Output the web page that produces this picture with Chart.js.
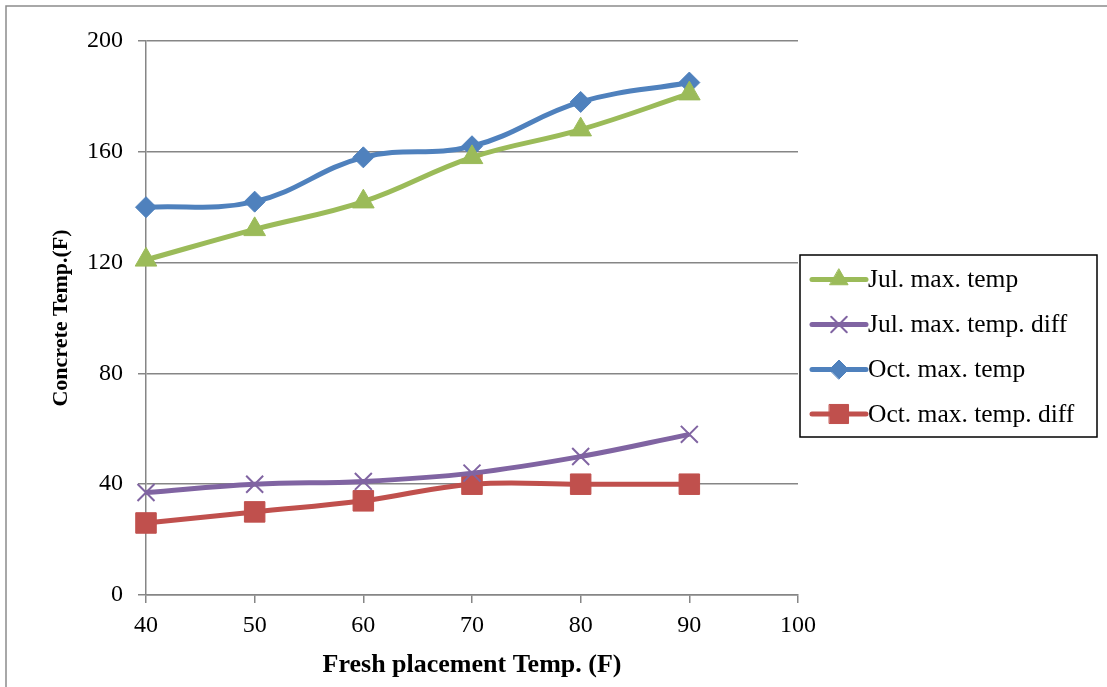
<!DOCTYPE html>
<html>
<head>
<meta charset="utf-8">
<script src="https://cdn.jsdelivr.net/npm/chart.js@4.4.1/dist/chart.umd.min.js"></script>
<style>
  html, body { margin: 0; padding: 0; background: #ffffff; }
  #wrap { position: relative; width: 1107px; height: 687px; }
</style>
</head>
<body>
<div id="wrap"><canvas id="c" width="1107" height="687"></canvas></div>
<script>
// ---- Data ----
const placementTemps = [40, 50, 60, 70, 80, 90];
const julMaxTemp      = [121, 132, 142, 158, 168, 181];
const julMaxTempDiff  = [37, 40, 41, 44, 50, 58];
const octMaxTemp      = [140, 142, 158, 162, 178, 185];
const octMaxTempDiff  = [26, 30, 34, 40, 40, 40];
const seriesLabels = ['Jul. max. temp', 'Jul. max. temp. diff', 'Oct. max. temp', 'Oct. max. temp. diff'];
const yTicks = [0, 40, 80, 120, 160, 200];
const xTicks = [40, 50, 60, 70, 80, 90, 100];
const xTitle = 'Fresh placement Temp. (F)';
const yTitle = 'Concrete Temp.(F)';

const FONT = '"Liberation Serif", "Times New Roman", serif';
const GRID = '#868686';

function pts(ys) { return placementTemps.map((x, i) => ({ x: x, y: ys[i] })); }

const styles = [
  { color: '#9BBB59', pointStyle: 'triangle', radius: 12.5, legendRadius: 10.5 },
  { color: '#8064A2', pointStyle: 'crossRot', radius: 12,   legendRadius: 11 },
  { color: '#4F81BD', pointStyle: 'rectRot',  radius: 10.5, legendRadius: 9.5 },
  { color: '#C0504D', pointStyle: 'rect',     radius: 14.5, legendRadius: 13.5 }
];
const seriesData = [julMaxTemp, julMaxTempDiff, octMaxTemp, octMaxTempDiff];

const datasets = seriesData.map((d, i) => ({
  label: seriesLabels[i],
  data: pts(d),
  borderColor: styles[i].color,
  backgroundColor: styles[i].color,
  borderWidth: 5,
  tension: 0.4,
  clip: false,
  pointStyle: styles[i].pointStyle,
  pointRadius: styles[i].radius,
  pointHoverRadius: styles[i].radius,
  pointBackgroundColor: styles[i].color,
  pointBorderColor: styles[i].color,
  pointBorderWidth: styles[i].pointStyle === 'crossRot' ? 2 : 1,
  fill: false
}));

function drawMarker(ctx, style, radius, x, y, color) {
  ctx.save();
  ctx.fillStyle = color;
  ctx.strokeStyle = color;
  ctx.lineWidth = style === 'crossRot' ? 2 : 1;
  if (Chart.helpers && Chart.helpers.drawPoint) {
    Chart.helpers.drawPoint(ctx, { pointStyle: style, radius: radius, rotation: 0, borderWidth: ctx.lineWidth }, x, y);
  } else {
    ctx.beginPath();
    if (style === 'triangle') {
      ctx.moveTo(x, y - radius);
      ctx.lineTo(x + radius * 0.866, y + radius * 0.5);
      ctx.lineTo(x - radius * 0.866, y + radius * 0.5);
      ctx.closePath(); ctx.fill();
    } else if (style === 'rectRot') {
      ctx.moveTo(x - radius, y); ctx.lineTo(x, y - radius);
      ctx.lineTo(x + radius, y); ctx.lineTo(x, y + radius);
      ctx.closePath(); ctx.fill();
    } else if (style === 'rect') {
      const s = radius * Math.SQRT1_2;
      ctx.rect(x - s, y - s, 2 * s, 2 * s); ctx.fill();
    } else {
      const s = radius * Math.SQRT1_2;
      ctx.moveTo(x - s, y - s); ctx.lineTo(x + s, y + s);
      ctx.moveTo(x + s, y - s); ctx.lineTo(x - s, y + s);
      ctx.stroke();
    }
  }
  ctx.restore();
}

const framePlugin = {
  id: 'frameAndLegend',
  afterDraw(chart) {
    const ctx = chart.ctx;
    ctx.save();
    // outer frame (left & top edges)
    ctx.strokeStyle = '#8c8c8c';
    ctx.lineWidth = 1.5;
    ctx.beginPath();
    ctx.moveTo(6, 700); ctx.lineTo(6, 6); ctx.lineTo(1110, 6);
    ctx.stroke();

    // legend box
    const lx = 800, ly = 255, lw = 297, lh = 182;
    ctx.fillStyle = '#ffffff';
    ctx.fillRect(lx, ly, lw, lh);
    ctx.strokeStyle = '#000000';
    ctx.lineWidth = 1.5;
    ctx.strokeRect(lx, ly, lw, lh);

    const rowYs = [279.5, 324.5, 369.5, 414];
    chart.data.datasets.forEach((ds, i) => {
      const y = rowYs[i];
      ctx.strokeStyle = ds.borderColor;
      ctx.lineWidth = 5;
      ctx.lineCap = 'round';
      ctx.beginPath();
      ctx.moveTo(812, y); ctx.lineTo(866, y);
      ctx.stroke();
      drawMarker(ctx, styles[i].pointStyle, styles[i].legendRadius, 839, y, ds.borderColor);
      ctx.fillStyle = '#000000';
      ctx.font = '25.5px ' + FONT;
      ctx.textBaseline = 'middle';
      ctx.textAlign = 'left';
      ctx.fillText(ds.label, 868, y + 1);
    });
    ctx.restore();
  }
};

new Chart(document.getElementById('c'), {
  type: 'line',
  data: { datasets: datasets },
  plugins: [framePlugin],
  options: {
    responsive: false,
    animation: false,
    events: [],
    layout: { padding: { top: 41, right: 309, left: 0, bottom: 0 } },
    plugins: { legend: { display: false }, tooltip: { enabled: false } },
    scales: {
      x: {
        type: 'linear',
        min: 40, max: 100,
        afterFit(scale) { scale.height = 92; },
        afterBuildTicks(scale) { scale.ticks = xTicks.map(v => ({ value: v })); },
        ticks: { font: { family: FONT, size: 24 }, color: '#000', padding: 8, maxRotation: 0 },
        grid: { drawOnChartArea: false, drawTicks: true, tickLength: 8, color: GRID, lineWidth: 1.5 },
        border: { display: true, color: GRID, width: 1.5 },
        title: { display: true, text: xTitle, color: '#000',
                 font: { family: FONT, size: 26, weight: 'bold' }, padding: { top: 0, bottom: 6 } }
      },
      y: {
        type: 'linear',
        min: 0, max: 200,
        afterFit(scale) { scale.width = 146; },
        afterBuildTicks(scale) { scale.ticks = yTicks.map(v => ({ value: v })); },
        ticks: { font: { family: FONT, size: 24 }, color: '#000', padding: 15 },
        grid: { drawOnChartArea: true, drawTicks: true, tickLength: 8, color: GRID, lineWidth: 1.5 },
        border: { display: true, color: GRID, width: 1.5 },
        title: { display: true, text: yTitle, color: '#000',
                 font: { family: FONT, size: 22, weight: 'bold' }, padding: { top: 48, bottom: 0 } }
      }
    }
  }
});
</script>
</body>
</html>
